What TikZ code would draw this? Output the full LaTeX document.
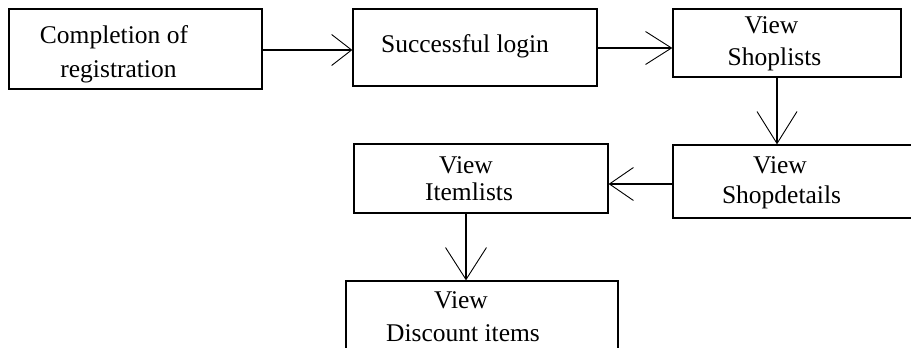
\documentclass[tikz,border=0pt]{standalone}
\usepackage{fontspec}
\setmainfont{Liberation Serif}
\usetikzlibrary{arrows.meta,calc}
\begin{document}
\begin{tikzpicture}[x=1pt,y=-1pt,
  box/.style={draw=black,line width=1.3pt,rectangle,inner sep=0pt},
  lbl/.style={inner sep=0pt,anchor=base,font=\fontsize{25.5pt}{30pt}\selectfont},
  conn/.style={line width=1.3pt},
  barb/.style n args={2}{-{Straight Barb[length=#1pt,width=#2pt,line width=0.9pt]}}]
\useasboundingbox (0,0) rectangle (911,348);
\clip (0,0) rectangle (911,348);
\fill[white] (0,0) rectangle (911,348);
% boxes
\node[box,minimum width=253pt,minimum height=80pt] (b1) at (135.5,49) {};
\node[box,minimum width=244pt,minimum height=77pt] (b2) at (475,47.5) {};
\node[box,minimum width=228pt,minimum height=68pt] (b3) at (787,43) {};
\node[box,minimum width=242pt,minimum height=73pt] (b4) at (794,181.5) {};
\node[box,minimum width=254pt,minimum height=69pt] (b5) at (481,178.5) {};
\node[box,minimum width=272pt,minimum height=79pt] (b6) at (482,320.5) {};
% labels
\node[lbl] (t1a) at (114,43) {Completion of};
\node[lbl] (t1b) at (118.5,77) {registration};
\node[lbl] (t2) at (465,52) {Successful login};
\node[lbl] (t3a) at (771.5,34) {View};
\node[lbl] (t3b) at (774.5,65) {Shoplists};
\node[lbl] (t4a) at (780,173) {View};
\node[lbl] (t4b) at (781.5,203) {Shopdetails};
\node[lbl] (t5a) at (466,173) {View};
\node[lbl] (t5b) at (469,200) {Itemlists};
\node[lbl] (t6a) at (461,308) {View};
\node[lbl] (t6b) at (463,341) {Discount items};
% connectors
\coordinate (s1) at ($(b1.east)+(0,1)$);
\draw[conn,barb={20}{31}] (s1) -- (s1 -| b2.west);
\coordinate (s2) at ($(b2.east)+(0,0.5)$);
\draw[conn,barb={26}{33}] (s2) -- (s2 -| b3.west);
\coordinate (s3) at ($(b3.south)+(-10,0)$);
\draw[conn,barb={32}{40}] (s3) -- (s3 |- b4.north);
\coordinate (s4) at ($(b4.west)+(0,2.5)$);
\draw[conn,barb={24}{33}] (s4) -- (s4 -| b5.east);
\coordinate (s5) at ($(b5.south)+(-15,0)$);
\draw[conn,barb={32}{41}] (s5) -- (s5 |- b6.north);
\end{tikzpicture}
\end{document}
